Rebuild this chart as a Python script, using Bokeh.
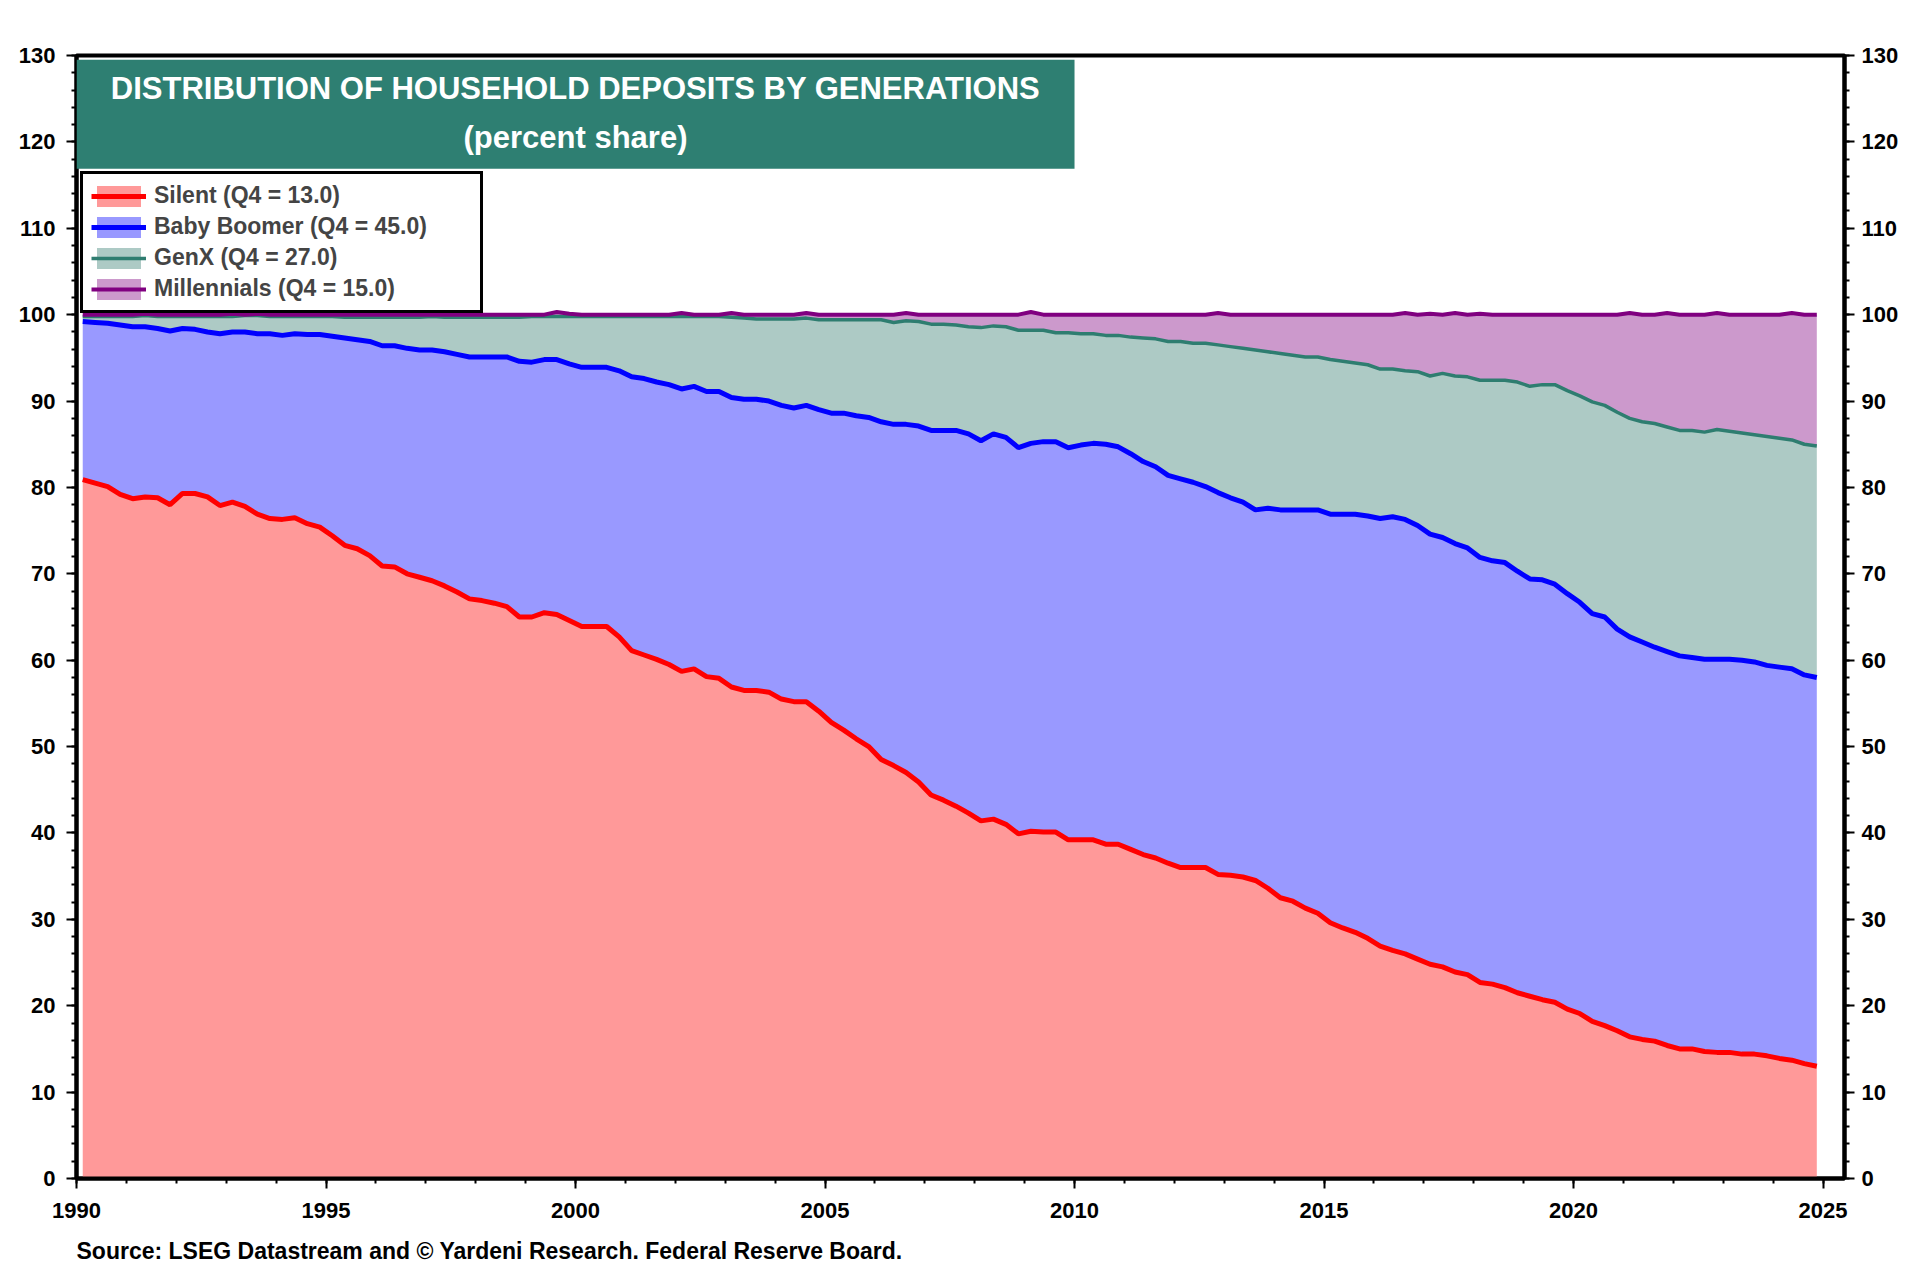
from bokeh.plotting import figure
from bokeh.models import (Range1d, LinearAxis, FixedTicker, Legend, LegendItem,
                          Label, BoxAnnotation, ColumnDataSource, Title)
from bokeh.embed import file_html
from bokeh.resources import INLINE

# ---------------- data (quarterly, 1990Q1 .. 2024Q4) ----------------
years = list(range(1990, 2025))
quarter_pos = [0.125, 0.375, 0.625, 0.875]
dates = [y + q for y in years for q in quarter_pos]

# upper edge of each stacked band (cumulative percent share)
silent_top = [
    80.9, 80.5, 80.1, 79.2, 78.7, 78.9, 78.8, 78.0, 79.3, 79.3, 78.9, 77.9,
    78.3, 77.8, 76.9, 76.4, 76.3, 76.5, 75.8, 75.4, 74.4, 73.3, 72.9, 72.1,
    70.9, 70.8, 70.0, 69.6, 69.2, 68.6, 67.9, 67.1, 66.9, 66.6, 66.2, 65.0,
    65.0, 65.5, 65.3, 64.6, 63.9, 63.9, 63.9, 62.7, 61.1, 60.6, 60.1, 59.5,
    58.7, 59.0, 58.1, 57.9, 56.9, 56.5, 56.5, 56.3, 55.5, 55.2, 55.2, 54.1,
    52.8, 51.9, 50.9, 50.0, 48.5, 47.8, 47.0, 45.9, 44.4, 43.8, 43.1, 42.3,
    41.4, 41.6, 41.0, 39.9, 40.2, 40.1, 40.1, 39.2, 39.2, 39.2, 38.7, 38.7,
    38.1, 37.5, 37.1, 36.5, 36.0, 36.0, 36.0, 35.2, 35.1, 34.9, 34.5, 33.6,
    32.5, 32.1, 31.3, 30.7, 29.6, 29.0, 28.5, 27.8, 26.9, 26.4, 26.0, 25.4,
    24.8, 24.5, 23.9, 23.6, 22.7, 22.5, 22.1, 21.5, 21.1, 20.7, 20.4, 19.6,
    19.1, 18.2, 17.7, 17.1, 16.4, 16.1, 15.9, 15.4, 15.0, 15.0, 14.7, 14.6,
    14.6, 14.4, 14.4, 14.2, 13.9, 13.7, 13.3, 13.0,
]
boomer_top = [
    99.2, 99.1, 99.0, 98.8, 98.6, 98.6, 98.4, 98.1, 98.4, 98.3, 98.0, 97.8,
    98.0, 98.0, 97.8, 97.8, 97.6, 97.8, 97.7, 97.7, 97.5, 97.3, 97.1, 96.9,
    96.4, 96.4, 96.1, 95.9, 95.9, 95.7, 95.4, 95.1, 95.1, 95.1, 95.1, 94.6,
    94.5, 94.8, 94.8, 94.3, 93.9, 93.9, 93.9, 93.5, 92.8, 92.6, 92.2, 91.9,
    91.4, 91.7, 91.1, 91.1, 90.4, 90.2, 90.2, 90.0, 89.5, 89.2, 89.5, 89.0,
    88.6, 88.6, 88.3, 88.1, 87.6, 87.3, 87.3, 87.1, 86.6, 86.6, 86.6, 86.2,
    85.4, 86.2, 85.8, 84.6, 85.1, 85.3, 85.3, 84.6, 84.9, 85.1, 85.0, 84.7,
    83.9, 83.0, 82.4, 81.4, 81.0, 80.6, 80.1, 79.4, 78.8, 78.3, 77.4, 77.6,
    77.4, 77.4, 77.4, 77.4, 76.9, 76.9, 76.9, 76.7, 76.4, 76.6, 76.3, 75.6,
    74.6, 74.2, 73.5, 73.0, 71.9, 71.5, 71.3, 70.3, 69.4, 69.3, 68.8, 67.7,
    66.7, 65.4, 65.0, 63.6, 62.7, 62.1, 61.5, 61.0, 60.5, 60.3, 60.1, 60.1,
    60.1, 60.0, 59.8, 59.4, 59.2, 59.0, 58.3, 58.0,
]
genx_top = [
    99.8, 99.8, 99.8, 99.8, 99.8, 99.9, 99.8, 99.8, 99.8, 99.8, 99.8, 99.8,
    99.8, 99.9, 99.9, 99.8, 99.8, 99.8, 99.8, 99.8, 99.8, 99.7, 99.7, 99.7,
    99.7, 99.7, 99.7, 99.7, 99.8, 99.7, 99.7, 99.7, 99.7, 99.7, 99.7, 99.7,
    99.8, 99.8, 99.8, 99.8, 99.8, 99.8, 99.8, 99.8, 99.8, 99.8, 99.8, 99.8,
    99.8, 99.8, 99.8, 99.8, 99.7, 99.6, 99.5, 99.5, 99.5, 99.5, 99.6, 99.4,
    99.4, 99.4, 99.4, 99.4, 99.4, 99.1, 99.3, 99.2, 98.9, 98.9, 98.8, 98.6,
    98.5, 98.7, 98.6, 98.2, 98.2, 98.2, 97.9, 97.9, 97.8, 97.8, 97.6, 97.6,
    97.4, 97.3, 97.2, 96.9, 96.9, 96.7, 96.7, 96.5, 96.3, 96.1, 95.9, 95.7,
    95.5, 95.3, 95.1, 95.1, 94.8, 94.6, 94.4, 94.2, 93.7, 93.7, 93.5, 93.4,
    92.9, 93.2, 92.9, 92.8, 92.4, 92.4, 92.4, 92.2, 91.7, 91.9, 91.9, 91.2,
    90.6, 89.9, 89.5, 88.7, 88.0, 87.6, 87.4, 87.0, 86.6, 86.6, 86.4, 86.7,
    86.5, 86.3, 86.1, 85.9, 85.7, 85.5, 85.0, 84.8,
]
total_top = [
    100.0, 100.0, 100.0, 100.0, 100.0, 100.1, 100.0, 100.0, 100.0, 100.0, 100.0, 100.0,
    100.1, 100.0, 100.1, 100.0, 100.0, 100.0, 100.0, 100.0, 100.0, 100.0, 100.0, 100.0,
    100.0, 100.0, 100.0, 100.0, 100.0, 100.0, 100.0, 100.0, 100.0, 100.0, 100.0, 100.0,
    100.0, 100.0, 100.3, 100.1, 100.0, 100.0, 100.0, 100.0, 100.0, 100.0, 100.0, 100.0,
    100.2, 100.0, 100.0, 100.0, 100.2, 100.0, 100.0, 100.0, 100.0, 100.0, 100.2, 100.0,
    100.0, 100.0, 100.0, 100.0, 100.0, 100.0, 100.2, 100.0, 100.0, 100.0, 100.0, 100.0,
    100.0, 100.0, 100.0, 100.0, 100.3, 100.0, 100.0, 100.0, 100.0, 100.0, 100.0, 100.0,
    100.0, 100.0, 100.0, 100.0, 100.0, 100.0, 100.0, 100.2, 100.0, 100.0, 100.0, 100.0,
    100.0, 100.0, 100.0, 100.0, 100.0, 100.0, 100.0, 100.0, 100.0, 100.0, 100.2, 100.0,
    100.1, 100.0, 100.2, 100.0, 100.1, 100.0, 100.0, 100.0, 100.0, 100.0, 100.0, 100.0,
    100.0, 100.0, 100.0, 100.0, 100.2, 100.0, 100.0, 100.2, 100.0, 100.0, 100.0, 100.2,
    100.0, 100.0, 100.0, 100.0, 100.0, 100.2, 100.0, 100.0,
]
zeros = [0.0] * len(dates)

labels = ["Silent (Q4 = 13.0)", "Baby Boomer (Q4 = 45.0)",
          "GenX (Q4 = 27.0)", "Millennials (Q4 = 15.0)"]
x_ticks = [1990, 1995, 2000, 2005, 2010, 2015, 2020, 2025]
y_ticks = list(range(0, 131, 10))
title_lines = ["DISTRIBUTION OF HOUSEHOLD DEPOSITS BY GENERATIONS", "(percent share)"]
source_text = "Source: LSEG Datastream and \u00a9 Yardeni Research. Federal Reserve Board."

# ---------------- styling ----------------
FONT = "Liberation Sans"
fills = ["#FF9999", "#9999FF", "#ADCAC5", "#CC99CC"]
lines = ["#FF0000", "#0000FF", "#2E7D70", "#800080"]
line_widths = [5, 5, 3.5, 4]
TEAL = "#2E7F72"

src = ColumnDataSource(dict(x=dates, z=zeros, s=silent_top, b=boomer_top,
                            g=genx_top, t=total_top))

W, H = 1904, 1280
p = figure(width=W, height=H, output_backend="svg", toolbar_location=None,
           x_range=Range1d(1990, 2025.43), y_range=Range1d(0, 130),
           min_border_left=76, min_border_right=60, min_border_top=55,
           min_border_bottom=H - 1178, background_fill_color="white",
           border_fill_color="white")
p.grid.visible = False
p.outline_line_color = "black"
p.outline_line_width = 4

pairs = [("z", "s"), ("s", "b"), ("b", "g"), ("g", "t")]
areas = []
for (lo, hi), fc in zip(pairs, fills):
    areas.append(p.varea(x="x", y1=lo, y2=hi, source=src, fill_color=fc, fill_alpha=1.0))
line_rs = []
for (lo, hi), lc, lw in zip(pairs, lines, line_widths):
    line_rs.append(p.line(x="x", y=hi, source=src, line_color=lc, line_width=lw))

# axes
p.xaxis.ticker = FixedTicker(ticks=x_ticks, minor_ticks=list(range(1990, 2026)))
p.yaxis.ticker = FixedTicker(ticks=y_ticks, minor_ticks=list(range(0, 131, 2)))
right_axis = LinearAxis(ticker=FixedTicker(ticks=y_ticks, minor_ticks=list(range(0, 131, 2))))
p.add_layout(right_axis, "right")

for ax in [p.xaxis[0], p.yaxis[0], right_axis]:
    ax.axis_line_width = 4
    ax.axis_line_color = "black"
    ax.major_tick_line_width = 2
    ax.minor_tick_line_width = 2
    ax.major_tick_in = 0
    ax.minor_tick_in = 0
    ax.major_tick_out = 10
    ax.minor_tick_out = 5
    ax.major_label_text_font = FONT
    ax.major_label_text_font_style = "bold"
    ax.major_label_text_font_size = "22px"
    ax.major_label_text_color = "black"
p.xaxis[0].major_label_standoff = 14
p.yaxis[0].major_label_standoff = 11
right_axis.major_label_standoff = 7

# title box
p.add_layout(BoxAnnotation(left=1990.0, right=2010.0, bottom=116.9, top=129.5,
                           fill_color=TEAL, fill_alpha=1.0, line_color=None))
for txt, yy in zip(title_lines, [126.2, 120.5]):
    p.add_layout(Label(x=2000.0, y=yy, text=txt, text_align="center",
                       text_baseline="middle", text_color="white",
                       text_font=FONT, text_font_style="bold",
                       text_font_size="31px"))

# legend
items = [LegendItem(label=lab, renderers=[a, l]) for lab, a, l in zip(labels, areas, line_rs)]
legend = Legend(items=items, location=(4, 865), border_line_color="black",
                border_line_width=3, border_line_alpha=1.0,
                background_fill_color="white",
                background_fill_alpha=1.0, label_text_font=FONT,
                label_text_font_style="bold", label_text_font_size="23px",
                glyph_width=55, glyph_height=26, label_height=26, label_width=318,
                spacing=4, padding=8, margin=0, label_standoff=8)
p.add_layout(legend, "center")

# source note
p.add_layout(Title(text=source_text, align="left", text_color="black",
                   text_font=FONT, text_font_style="bold", text_font_size="23px",
                   text_line_height=1.0, standoff=31), "below")

open("out.html", "w").write(file_html(p, INLINE))
